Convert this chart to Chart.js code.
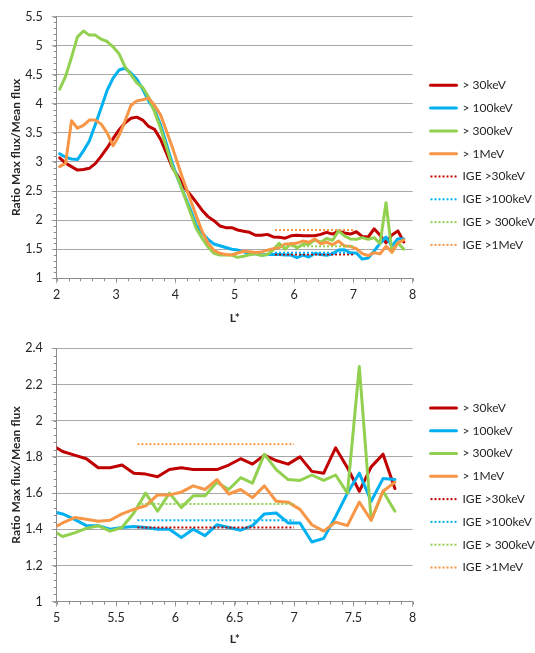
<!DOCTYPE html>
<html><head><meta charset="utf-8">
<script src="https://cdn.jsdelivr.net/npm/chart.js@4.4.1/dist/chart.umd.min.js"></script>
<style>
html,body{margin:0;padding:0;background:#fff;width:535px;height:653px;overflow:hidden;}
#c1{position:absolute;left:0;top:0;}
#c2{position:absolute;left:0;top:330px;}
</style></head><body>
<canvas id="c1" width="535" height="330"></canvas>
<canvas id="c2" width="535" height="323"></canvas>
<script>
// L* values (bin centres)
const L = [2.05,2.15,2.25,2.35,2.45,2.55,2.65,2.75,2.85,2.95,
           3.05,3.15,3.25,3.35,3.45,3.55,3.65,3.75,3.85,3.95,
           4.05,4.15,4.25,4.35,4.45,4.55,4.65,4.75,4.85,4.95,
           5.05,5.15,5.25,5.35,5.45,5.55,5.65,5.75,5.85,5.95,
           6.05,6.15,6.25,6.35,6.45,6.55,6.65,6.75,6.85,6.95,
           7.05,7.15,7.25,7.35,7.45,7.55,7.65,7.75,7.85];
const red30keV = [3.07,2.98,2.92,2.86,2.87,2.89,2.97,3.10,3.24,3.40,
           3.55,3.67,3.75,3.77,3.72,3.61,3.56,3.39,3.15,2.90,
           2.75,2.56,2.44,2.31,2.17,2.06,1.99,1.90,1.87,1.87,
           1.83,1.81,1.79,1.74,1.74,1.755,1.71,1.705,1.69,1.73,
           1.74,1.73,1.73,1.73,1.755,1.79,1.76,1.81,1.78,1.76,
           1.80,1.72,1.71,1.85,1.74,1.61,1.745,1.815,1.625];
const blue100keV = [3.14,3.08,3.05,3.04,3.19,3.36,3.64,3.93,4.23,4.44,
           4.58,4.61,4.53,4.42,4.25,4.05,3.89,3.64,3.31,2.97,
           2.69,2.44,2.19,1.92,1.78,1.67,1.59,1.56,1.53,1.50,
           1.485,1.455,1.42,1.42,1.40,1.41,1.415,1.41,1.40,1.40,
           1.355,1.40,1.365,1.425,1.41,1.395,1.42,1.485,1.49,1.435,
           1.435,1.33,1.35,1.47,1.60,1.71,1.555,1.68,1.675];
const green300keV = [4.25,4.47,4.80,5.15,5.25,5.18,5.18,5.11,5.07,4.98,
           4.86,4.64,4.50,4.36,4.28,4.11,3.86,3.58,3.25,2.92,
           2.70,2.42,2.14,1.86,1.69,1.54,1.43,1.40,1.40,1.40,
           1.36,1.38,1.405,1.42,1.39,1.41,1.49,1.60,1.50,1.60,
           1.52,1.585,1.585,1.66,1.62,1.685,1.655,1.815,1.73,1.675,
           1.67,1.70,1.67,1.70,1.60,2.30,1.45,1.61,1.50];
const orange1MeV = [2.92,2.98,3.71,3.58,3.63,3.72,3.72,3.65,3.50,3.28,
           3.45,3.70,3.97,4.05,4.07,4.10,3.97,3.81,3.53,3.25,
           2.94,2.64,2.36,2.08,1.81,1.61,1.48,1.43,1.41,1.40,
           1.435,1.465,1.455,1.445,1.45,1.485,1.51,1.53,1.59,1.59,
           1.605,1.64,1.62,1.675,1.595,1.62,1.575,1.64,1.555,1.55,
           1.51,1.425,1.39,1.44,1.42,1.55,1.45,1.61,1.66];
// IGE reference levels (horizontal segments over the L* range below)
const igeRange = [5.68, 7.0];
const igeTop = [1.41, 1.44, 1.55, 1.83];
const igeBottom = [1.41, 1.45, 1.54, 1.87];
const seriesNames = ['> 30keV', '> 100keV', '> 300keV', '> 1MeV'];
const igeNames = ['IGE >30keV', 'IGE >100keV', 'IGE > 300keV', 'IGE >1MeV'];
const topXTicks = [2, 8, 1];       // min, max, step
const topYTicks = [1, 5.5, 0.5];
const bottomXTicks = [5, 8, 0.5];
const bottomYTicks = [1, 2.4, 0.2];

const colors = ['#C00000', '#00B0F0', '#92D050', '#F79646'];
const FONT = 'Lato, "Open Sans", sans-serif';
const TXT = '#262626';
const GRID = '#a8a8a8';

const minorTicks = {
  id: 'minorTicks',
  afterDraw(chart, args, opts) {
    const {ctx, chartArea: a, scales: {x, y}} = chart;
    ctx.save();
    ctx.strokeStyle = opts.color; ctx.lineWidth = 1;
    ctx.beginPath();
    const ny = Math.round((y.max - y.min) / opts.y);
    for (let i = 0; i <= ny; i++) {
      const p = Math.round(y.getPixelForValue(y.min + i * opts.y)) + 0.5;
      ctx.moveTo(a.left - opts.len, p); ctx.lineTo(a.left, p);
    }
    const nx = Math.round((x.max - x.min) / opts.x);
    for (let i = 0; i <= nx; i++) {
      const p = Math.round(x.getPixelForValue(x.min + i * opts.x)) + 0.5;
      ctx.moveTo(p, a.bottom); ctx.lineTo(p, a.bottom + opts.len);
    }
    ctx.stroke(); ctx.restore();
  }
};

const fmt = v => String(Number(Number(v).toFixed(2)));

function legendLabels(chart) {
  const items = Chart.defaults.plugins.legend.labels.generateLabels(chart);
  return items.map(it => {
    const ds = chart.data.datasets[it.datasetIndex];
    it.lineDash = ds.borderDash || [];
    it.lineWidth = ds.borderWidth;
    it.strokeStyle = ds.borderColor;
    it.fillStyle = ds.borderColor;
    it.lineCap = ds.borderDash ? 'butt' : 'round';
    it.pointStyle = 'line';
    return it;
  });
}

function build(canvasId, xt, yt, ige, geo) {
  const series = [red30keV, blue100keV, green300keV, orange1MeV];
  const datasets = series.map((s, k) => ({
    label: seriesNames[k],
    data: L.map((x, i) => ({x: x, y: s[i]})),
    borderColor: colors[k], backgroundColor: colors[k],
    borderWidth: 3, pointRadius: 0, tension: 0,
    borderJoinStyle: 'round', borderCapStyle: 'round',
    order: 10 - k, clip: {left: 0, top: 3, right: 3, bottom: 3}
  }));
  ige.forEach((v, k) => datasets.push({
    label: igeNames[k],
    data: igeRange.map(x => ({x: x, y: v})),
    borderColor: colors[k], backgroundColor: colors[k],
    borderWidth: 2, borderDash: [2, 2], pointRadius: 0, tension: 0,
    order: 4 - k
  }));
  return new Chart(document.getElementById(canvasId), {
    type: 'line',
    data: {datasets},
    plugins: [minorTicks],
    options: {
      responsive: false, animation: false, events: [],
      layout: {padding: {top: geo.padTop, left: 0, right: 0, bottom: 0}},
      scales: {
        x: {
          type: 'linear', min: xt[0], max: xt[1],
          afterFit: s => { s.height = geo.xH; },
          ticks: {stepSize: xt[2], color: TXT, padding: 4, font: {family: FONT, size: 12.5}, callback: fmt},
          grid: {display: true, drawOnChartArea: false, drawTicks: true, tickLength: 5, color: GRID},
          border: {display: true, color: '#8c8c8c', width: 1},
          title: {display: true, text: 'L*', color: TXT, font: {family: FONT, size: 12, weight: 'bold'},
                  padding: {top: 0, bottom: geo.titlePadB}}
        },
        y: {
          type: 'linear', min: yt[0], max: yt[1],
          afterFit: s => { s.width = 56.7; },
          ticks: {stepSize: yt[2], color: TXT, padding: 9, font: {family: FONT, size: 12.5}, callback: fmt},
          grid: {display: true, drawOnChartArea: true, drawTicks: true, tickLength: 5, color: GRID, lineWidth: 1},
          border: {display: true, color: '#8c8c8c', width: 1},
          title: {display: true, text: 'Ratio Max flux/Mean flux', color: TXT,
                  font: {family: FONT, size: 12, weight: 'bold'}, padding: {top: 9.3, bottom: 0}}
        },
        yR: {
          type: 'linear', position: 'right', display: true,
          afterFit: s => { s.width = 7; },
          grid: {display: false}, ticks: {display: false}, border: {display: false}
        }
      },
      plugins: {
        tooltip: {enabled: false},
        minorTicks: {x: geo.xMinor, y: geo.yMinor, len: 3, color: '#8c8c8c'},
        legend: {
          position: 'right', align: 'start', maxWidth: 115.3,
          title: {display: true, text: '', padding: {top: geo.legPad, bottom: 0}, font: {size: 10, lineHeight: 1}},
          labels: {
            usePointStyle: true, pointStyle: 'line', pointStyleWidth: 26,
            padding: 10.8, color: TXT, font: {family: FONT, size: 12},
            generateLabels: legendLabels,
            sort: (a, b) => a.datasetIndex - b.datasetIndex
          }
        }
      }
    }
  });
}

build('c1', topXTicks, topYTicks, igeTop,
      {padTop: 8.3, xH: 51.7, titlePadB: 4.8, xMinor: 0.2, yMinor: 0.1, legPad: 50.2});
build('c2', bottomXTicks, bottomYTicks, igeBottom,
      {padTop: 18.3, xH: 51.3, titlePadB: 6.8, xMinor: 0.1, yMinor: 0.04, legPad: 32.8});
</script>
</body></html>
